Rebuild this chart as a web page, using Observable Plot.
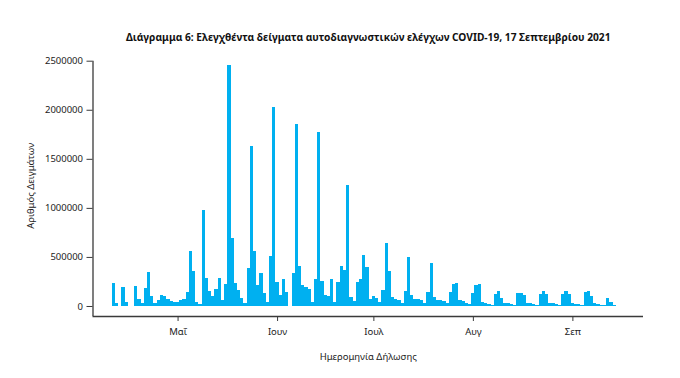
<!DOCTYPE html>
<html>
<head>
<meta charset="utf-8">
<script src="https://cdn.jsdelivr.net/npm/d3@7"></script>
<script src="https://cdn.jsdelivr.net/npm/@observablehq/plot@0.6"></script>
<style>
  body { margin: 0; background: #fff; }
  #chart svg { display: block; }
</style>
</head>
<body>
<div id="chart"></div>
<script>
// ---- Data ----
const title = "Διάγραμμα 6: Ελεγχθέντα δείγματα αυτοδιαγνωστικών ελέγχων COVID-19, 17 Σεπτεμβρίου 2021";
const yLabel = "Αριθμός Δειγμάτων";
const xLabel = "Ημερομηνία Δήλωσης";
const firstDate = "2021-04-11";
const samples = [
  231000, 28000, 5000, 195000, 45000, 0, 0, 200000, 70000, 27000,
  185000, 345000, 105000, 34000, 57000, 107000, 100000, 76000, 54000, 39000,
  45000, 60000, 70000, 146000, 557000, 357000, 44000, 20000, 975000, 282000,
  156000, 102000, 173000, 282000, 61000, 224000, 2456000, 697000, 231000, 163000,
  78000, 27000, 384000, 1631000, 560000, 214000, 333000, 129000, 44000, 513000,
  2025000, 241000, 115000, 272000, 140000, 0, 333000, 1855000, 408000, 214000,
  197000, 170000, 44000, 272000, 1777000, 258000, 112000, 105000, 275000, 37000,
  248000, 408000, 367000, 1233000, 95000, 54000, 241000, 280000, 520000, 398000,
  70000, 104000, 80000, 40000, 160000, 639000, 358000, 88000, 76000, 61000,
  35000, 156000, 500000, 112000, 76000, 70000, 60000, 35000, 139000, 438000,
  95000, 61000, 60000, 51000, 34000, 141000, 224000, 231000, 61000, 46000,
  34000, 20000, 129000, 211000, 224000, 44000, 34000, 20000, 14000, 122000,
  150000, 78000, 34000, 27000, 20000, 10000, 129000, 129000, 109000, 34000,
  27000, 20000, 10000, 122000, 156000, 122000, 34000, 27000, 17000, 10000,
  122000, 150000, 122000, 34000, 24000, 17000, 7000, 143000, 150000, 102000,
  27000, 20000, 14000, 7000, 85000, 44000, 10000, 3000
];
const monthTicks = ["2021-05-01", "2021-06-01", "2021-07-01", "2021-08-01", "2021-09-01"];
const monthLabels = ["Μαΐ", "Ιουν", "Ιουλ", "Αυγ", "Σεπ"];
const yTicks = [0, 500000, 1000000, 1500000, 2000000, 2500000];

// ---- Build table ----
const DAY = 864e5;
const t0 = new Date(firstDate + "T00:00:00Z");
const table = samples.map((v, i) => ({ date: new Date(+t0 + i * DAY), value: v }));
const tickDates = monthTicks.map(s => new Date(s + "T00:00:00Z"));

// ---- Layout ----
const xDomain = [new Date("2021-04-04T12:00:00Z"), new Date("2021-09-23T00:00:00Z")];
const yDomain = [-102000, 2500000];
const font = "'Noto Sans', sans-serif";
const ink = "#222";
const axisColor = "#3a3a3a";

const chart = Plot.plot({
  width: 680,
  height: 378,
  marginLeft: 92.5,
  marginRight: 37,
  marginTop: 60.7,
  marginBottom: 62,
  style: { fontFamily: font, fontSize: "9.5px", color: ink, background: "#fff" },
  x: { type: "utc", domain: xDomain },
  y: { domain: yDomain },
  marks: [
    Plot.rect(table, {
      x1: d => new Date(+d.date - DAY / 2),
      x2: d => new Date(+d.date + DAY / 2),
      y1: 0,
      y2: "value",
      fill: "#00B0F0",
      shapeRendering: "crispEdges"
    }),
    Plot.ruleX([xDomain[0]], { stroke: axisColor, strokeWidth: 1.3 }),
    Plot.ruleY([yDomain[0]], { stroke: axisColor, strokeWidth: 1.3 }),
    Plot.axisY({
      ticks: yTicks,
      tickFormat: d3.format("d"),
      tickSize: 6,
      tickPadding: 4,
      stroke: axisColor,
      label: null,
      fontSize: 9.5
    }),
    Plot.axisX({
      ticks: tickDates,
      tickFormat: (d, i) => monthLabels[i],
      tickSize: 5,
      tickPadding: 7,
      stroke: axisColor,
      label: null,
      fontSize: 9.5
    }),
    Plot.text([yLabel], {
      frameAnchor: "left", dx: -62, dy: -3, rotate: -90,
      textAnchor: "middle", lineAnchor: "middle", fontSize: 9.5, fill: ink
    }),
    Plot.text([xLabel], {
      frameAnchor: "bottom", dy: 40,
      textAnchor: "middle", lineAnchor: "middle", fontSize: 9.5, fill: ink
    }),
    Plot.text([title], {
      frameAnchor: "top", dy: -23.5,
      textAnchor: "middle", lineAnchor: "middle", fontSize: 10.2, fontWeight: "bold", fill: "#111"
    })
  ]
});
document.getElementById("chart").appendChild(chart);
</script>
</body>
</html>
